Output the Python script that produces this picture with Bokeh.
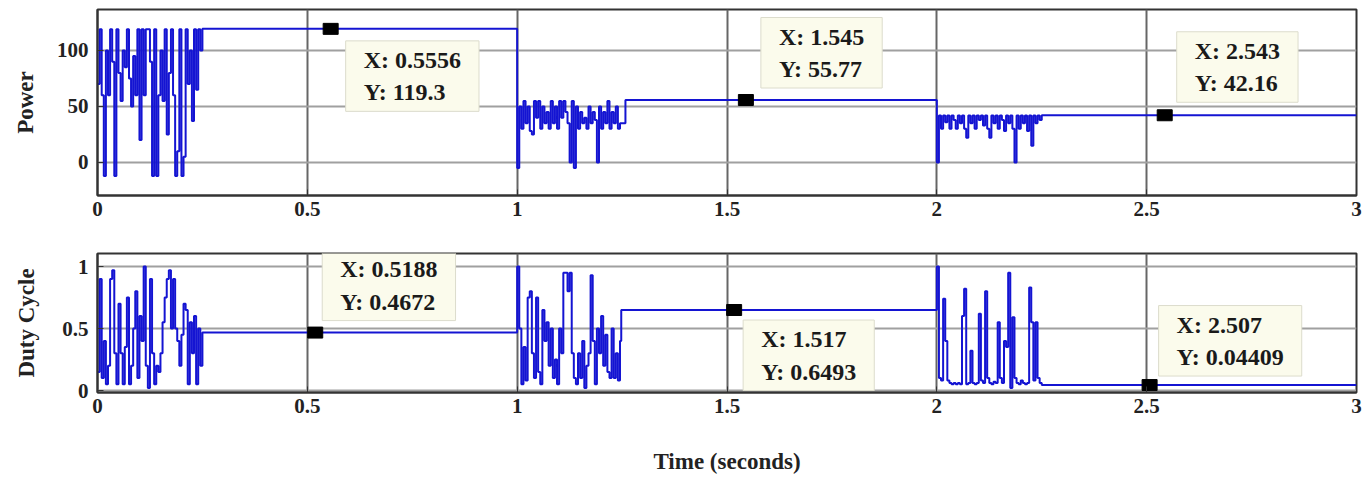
from bokeh.plotting import figure
from bokeh.layouts import column
from bokeh.models import Range1d, FixedTicker, Label
from bokeh.embed import file_html
from bokeh.resources import INLINE

# ---------------- data ----------------
burst_t = [0.000, 0.005, 0.010, 0.015, 0.020, 0.025, 0.030, 0.035, 0.040, 0.045,
           0.050, 0.055, 0.060, 0.065, 0.070, 0.075, 0.080, 0.085, 0.090, 0.095,
           0.100, 0.105, 0.110, 0.115, 0.120, 0.125, 0.130, 0.135, 0.140, 0.145,
           0.150, 0.155, 0.160, 0.165, 0.170, 0.175, 0.180, 0.185, 0.190, 0.195,
           0.200, 0.205, 0.210, 0.215, 0.220, 0.225, 0.230, 0.235, 0.240, 0.245]
burst_starts = [0.0, 1.0, 2.0]
t_end = 3.0

power_burst1 = [70, 119, 60, -12, 100, 60, 119, 90, -12, 119,
                80, 55, 100, 85, 119, 75, 50, 95, 60, 119,
                20, 119, 60, 119, 119, 90, -12, 119, -12, 60,
                100, 55, 119, 25, 80, 119, 60, -12, 10, 119,
                -12, 5, 119, 70, 100, 37, 119, 65, 119, 100]
power_burst2 = [-5, 50, 30, 55, 35, 50, 28, 25, 55, 40,
                55, 30, 50, 35, 45, 30, 55, 35, 50, 30,
                55, 40, 55, 45, 35, 0, 55, -5, 50, 30,
                45, 35, 40, 30, 50, 35, 45, 38, 0, 50,
                30, 45, 35, 55, 30, 45, 35, 50, 30, 35]
power_burst3 = [0, 42, 30, 42, 36, 42, 30, 42, 38, 30,
                42, 35, 42, 30, 22, 42, 35, 42, 30, 42,
                38, 42, 33, 42, 30, 22, 42, 35, 42, 30,
                42, 38, 28, 42, 35, 42, 30, 0, 42, 30,
                42, 35, 42, 28, 42, 15, 42, 35, 42, 38]
power_settle_t = [0.250, 1.258, 2.250]
power_settle_v = [119.3, 55.77, 42.16]

duty_burst1 = [0.15, 0.9, 0.1, 0.4, 0.05, 0.2, 0.9, 0.97, 0.3, 0.05,
               0.7, 0.3, 0.05, 0.35, 0.75, 0.05, 0.2, 0.5, 0.8, 0.1,
               0.6, 0.4, 1.0, 0.2, 0.02, 0.9, 0.3, 0.05, 0.2, 0.15,
               0.3, 0.55, 0.75, 0.9, 0.97, 0.5, 0.9, 0.5, 0.4, 0.2,
               0.45, 0.7, 0.65, 0.05, 0.55, 0.3, 0.6, 0.05, 0.5, 0.2]
duty_burst2 = [1.0, 0.5, 0.05, 0.35, 0.08, 0.75, 0.8, 0.3, 0.1, 0.75,
               0.15, 0.05, 0.65, 0.4, 0.55, 0.2, 0.5, 0.1, 0.25, 0.05,
               0.5, 0.3, 0.95, 0.95, 0.8, 0.95, 0.3, 0.1, 0.05, 0.3,
               0.1, 0.4, 0.02, 0.2, 0.3, 0.93, 0.4, 0.05, 0.5, 0.3,
               0.6, 0.2, 0.45, 0.15, 0.1, 0.5, 0.1, 0.3, 0.08, 0.4]
duty_burst3 = [1.0, 0.1, 0.08, 0.74, 0.4, 0.08, 0.06, 0.05, 0.06, 0.05,
               0.06, 0.05, 0.6, 0.82, 0.05, 0.06, 0.32, 0.06, 0.05, 0.06,
               0.62, 0.08, 0.06, 0.8, 0.1, 0.06, 0.05, 0.07, 0.06, 0.55,
               0.1, 0.06, 0.4, 0.35, 0.95, 0.02, 0.59, 0.1, 0.06, 0.05,
               0.08, 0.06, 0.05, 0.06, 0.83, 0.55, 0.08, 0.55, 0.1, 0.06]
duty_settle_t = [0.250, 1.248, 2.250]
duty_settle_v = [0.4672, 0.6493, 0.04409]

power_tips_x = [0.5556, 1.545, 2.543]
power_tips_y = [119.3, 55.77, 42.16]
duty_tips_x = [0.5188, 1.517, 2.507]
duty_tips_y = [0.4672, 0.6493, 0.04409]

x_ticks = [0, 0.5, 1, 1.5, 2, 2.5, 3]
x_tick_labels = ["0", "0.5", "1", "1.5", "2", "2.5", "3"]
power_ticks = [0, 50, 100]
power_tick_labels = ["0", "50", "100"]
duty_ticks = [0, 0.5, 1]
duty_tick_labels = ["0", "0.5", "1"]


def assemble(bursts, settle_t, settle_v):
    ts, vs = [], []
    for start, b, st, sv in zip(burst_starts, bursts, settle_t, settle_v):
        ts += [start + t for t in burst_t]
        vs += list(b)
        ts.append(st)
        vs.append(sv)
    ts.append(t_end)
    vs.append(settle_v[-1])
    return ts, vs


power_t, power_v = assemble([power_burst1, power_burst2, power_burst3], power_settle_t, power_settle_v)
duty_t, duty_v = assemble([duty_burst1, duty_burst2, duty_burst3], duty_settle_t, duty_settle_v)

# ---------------- styling ----------------
FONT = "Liberation Serif"
LINE = "#1414d2"
W = 1371


def style(p, yticks, ylabels, ylabel):
    p.xaxis.ticker = FixedTicker(ticks=x_ticks)
    p.xaxis.major_label_overrides = {t: l for t, l in zip(x_ticks, x_tick_labels)}
    p.yaxis.ticker = FixedTicker(ticks=yticks)
    p.yaxis.major_label_overrides = {t: l for t, l in zip(yticks, ylabels)}
    for ax in (p.xaxis[0], p.yaxis[0]):
        ax.major_label_text_font = FONT
        ax.major_label_text_font_style = "bold"
        ax.major_label_text_font_size = "21px"
        ax.major_label_text_color = "#222222"
        ax.axis_line_color = "#333333"
        ax.axis_line_width = 2
        ax.major_tick_in = 6
        ax.major_tick_out = 0
        ax.major_tick_line_color = "#333333"
        ax.minor_tick_line_color = None
        ax.axis_label_text_font = FONT
        ax.axis_label_text_font_style = "bold"
        ax.axis_label_text_color = "#222222"
    p.xaxis.major_label_standoff = 6
    p.yaxis.major_label_standoff = 9
    p.yaxis.axis_label = ylabel
    p.yaxis.axis_label_text_font_size = "23px"
    p.xgrid.grid_line_color = "#666666"
    p.xgrid.grid_line_width = 2
    p.ygrid.grid_line_color = "#a0a0a0"
    p.ygrid.grid_line_width = 2
    p.outline_line_color = "#333333"
    p.outline_line_width = 2
    p.background_fill_color = "white"
    p.border_fill_color = "white"


top = figure(width=W, height=240, output_backend="svg", toolbar_location=None,
             x_range=Range1d(0, 3), y_range=Range1d(-29.5, 136.6),
             min_border_left=97, min_border_right=15, min_border_top=9, min_border_bottom=45)
style(top, power_ticks, power_tick_labels, "Power")
top.yaxis.axis_label_standoff = 16
top.step(power_t, power_v, mode="after", line_color=LINE, line_width=2)
top.rect(power_tips_x, power_tips_y, width=15, height=11, width_units="screen",
         height_units="screen", color="black")

bot = figure(width=W, height=237, output_backend="svg", toolbar_location=None,
             x_range=Range1d(0, 3), y_range=Range1d(-0.016, 1.105),
             min_border_left=97, min_border_right=15, min_border_top=13, min_border_bottom=85)
style(bot, duty_ticks, duty_tick_labels, "Duty Cycle")
bot.yaxis.axis_label_standoff = 20
bot.xaxis.axis_label = "Time (seconds)"
bot.xaxis.axis_label_text_font_size = "23px"
bot.xaxis.axis_label_standoff = 33
bot.step(duty_t, duty_v, mode="after", line_color=LINE, line_width=2)
bot.rect(duty_tips_x, duty_tips_y, width=15, height=11, width_units="screen",
         height_units="screen", color="black")


def tip(p, x, y, xoff, yoff, anchor):
    txt = "X: %s\nY: %s" % (x, y)
    p.add_layout(Label(x=x, y=y, x_offset=xoff, y_offset=yoff, anchor=anchor, text=txt,
                       text_font=FONT, text_font_style="bold", text_font_size="24px",
                       text_color="#1a1a1a", text_line_height=1.25,
                       background_fill_color="#fbfbec", background_fill_alpha=1.0,
                       border_line_color="#dcdccc", border_line_width=1,
                       padding=(18, 6)))


tip(top, power_tips_x[0], power_tips_y[0], 15, -12, "top_left")
tip(top, power_tips_x[1], power_tips_y[1], 15, 12, "bottom_left")
tip(top, power_tips_x[2], power_tips_y[2], 12, 13, "bottom_left")
tip(bot, duty_tips_x[0], duty_tips_y[0], 7, 12, "bottom_left")
tip(bot, duty_tips_x[1], duty_tips_y[1], 9, -10, "top_left")
tip(bot, duty_tips_x[2], duty_tips_y[2], 9, 9, "bottom_left")

layout = column(top, bot, spacing=0)
open("out.html", "w").write(file_html(layout, INLINE))
